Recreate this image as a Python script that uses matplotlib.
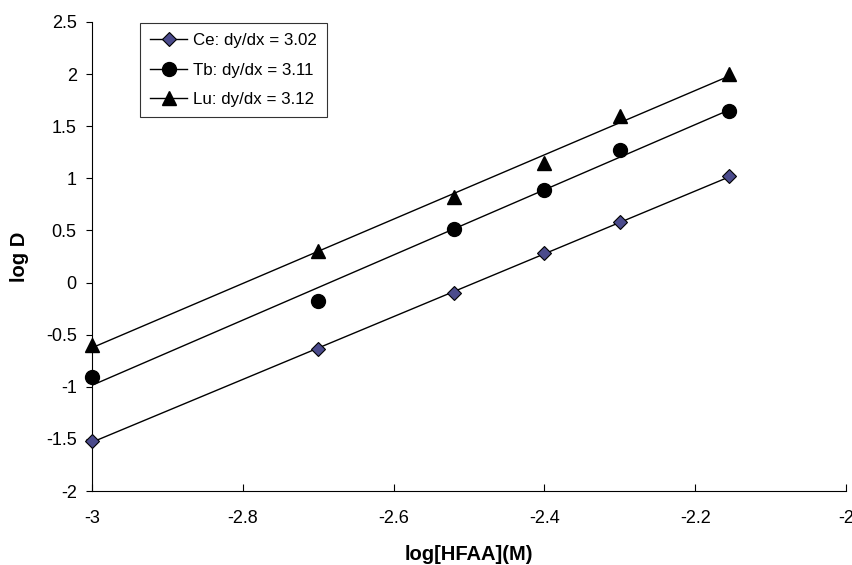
import numpy as np
import matplotlib
matplotlib.use("Agg")
import matplotlib.pyplot as plt
from matplotlib.lines import Line2D

plt.rcParams['font.family'] = ['Liberation Sans', 'DejaVu Sans']

x_vals = [-3.0, -2.7, -2.52, -2.4, -2.3, -2.155]
ce = [-1.52, -0.64, -0.10, 0.28, 0.58, 1.02]
tb = [-0.91, -0.18, 0.51, 0.89, 1.27, 1.65]
lu = [-0.60, 0.30, 0.82, 1.15, 1.60, 2.00]
labels = ["Ce: dy/dx = 3.02", "Tb: dy/dx = 3.11", "Lu: dy/dx = 3.12"]

fig = plt.figure(figsize=(8.53, 5.65), dpi=100)
ax = fig.add_axes([92/853, 1-491/565, 754/853, 469/565])

styles = [
    dict(marker='D', ms=7, mfc='#4b4b8c', mec='black', mew=0.8),
    dict(marker='o', ms=10, mfc='black', mec='black'),
    dict(marker='^', ms=10, mfc='black', mec='black'),
]
handles = []
x = np.array(x_vals)
for ys, st, lab in zip([ce, tb, lu], styles, labels):
    ys = np.array(ys)
    k, b = np.polyfit(x, ys, 1)
    xl = np.array([x.min(), x.max()])
    ax.plot(xl, k*xl + b, color='black', lw=1.0, zorder=2)
    ax.plot(x, ys, ls='none', zorder=3, clip_on=False, **st)
    handles.append(Line2D([], [], color='black', lw=1.0, label=lab, **st))

ax.set_xlim(-3, -2)
ax.set_ylim(-2, 2.5)
ax.set_xticks(np.arange(-3, -1.99, 0.2))
ax.set_xticklabels(['-3', '-2.8', '-2.6', '-2.4', '-2.2', '-2'])
ax.set_yticks(np.arange(-2, 2.51, 0.5))
ax.set_yticklabels(['-2', '-1.5', '-1', '-0.5', '0', '0.5', '1', '1.5', '2', '2.5'])
ax.spines['top'].set_visible(False)
ax.spines['right'].set_visible(False)
ax.tick_params(axis='x', direction='in', length=5, labelsize=13, pad=14)
ax.tick_params(axis='y', direction='out', length=4.5, labelsize=13, pad=6.5)
ax.set_xlabel('log[HFAA](M)', fontsize=14.5, fontweight='bold', labelpad=13)
ax.set_ylabel('log D', fontsize=14.5, fontweight='bold', labelpad=12)

leg = ax.legend(handles=handles, loc='upper left', bbox_to_anchor=(48/754, 1-1/469),
                borderaxespad=0, fontsize=12.2, frameon=True, fancybox=False,
                edgecolor='black', handlelength=2.2, borderpad=0.6,
                labelspacing=0.85, handletextpad=0.3)
leg.get_frame().set_linewidth(0.8)

fig.savefig('out.png', dpi=100)
